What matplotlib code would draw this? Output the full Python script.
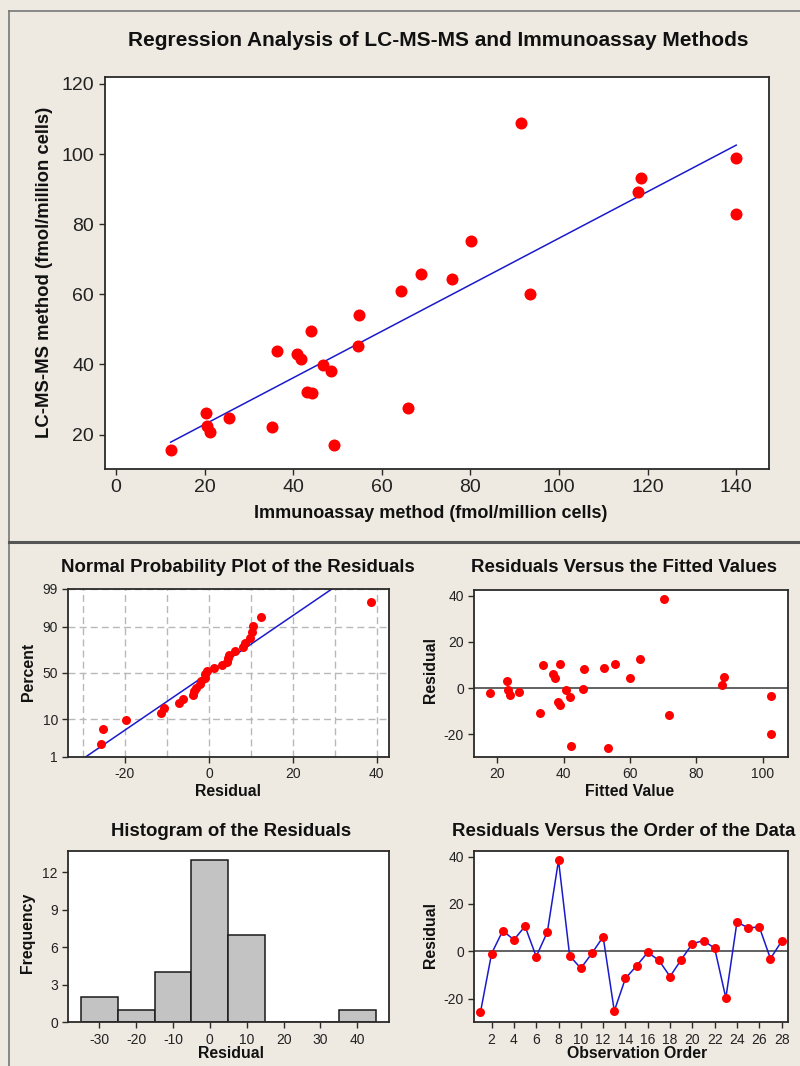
import numpy as np
import matplotlib
matplotlib.use("Agg")
import matplotlib.pyplot as plt
from matplotlib import font_manager
from matplotlib.lines import Line2D
from statistics import NormalDist

# ---------------- data (observation order) ----------------
immuno = [65.8, 20.6, 64.3, 118.4, 44.1, 12.3, 54.8, 91.4, 25.5, 44.2,
          46.8, 40.8, 49.2, 93.4, 43.2, 54.5, 48.6, 35.1, 140.0, 20.2,
          75.8, 117.8, 140.0, 80.2, 36.4, 68.9, 21.3, 41.7]
lcms = [27.5, 22.4, 61.0, 93.1, 49.5, 15.6, 54.2, 108.8, 24.7, 31.8,
        39.9, 42.9, 17.1, 60.2, 32.2, 45.4, 38.1, 22.3, 99.0, 26.3,
        64.5, 89.1, 82.8, 75.3, 43.7, 65.7, 20.7, 41.6]
hist_centers = [-30, -20, -10, 0, 10, 20, 30, 40]
hist_counts = [2, 1, 4, 13, 7, 0, 0, 1]
prob_tick_pct = [1, 10, 50, 90, 99]

# ---------------- style ----------------
names = {f.name for f in font_manager.fontManager.ttflist}
NARROW = 'Liberation Sans Narrow' if 'Liberation Sans Narrow' in names else 'Liberation Sans'
SANS = 'Liberation Sans'
plt.rcParams['font.family'] = [SANS, 'DejaVu Sans']
plt.rcParams['axes.unicode_minus'] = False

BG = '#eeeae2'
RED = '#ff0000'
BLUE = '#1a1acc'
SPINE = '#2a2a2a'

W, H = 800, 1066
fig = plt.figure(figsize=(W / 100, H / 100), dpi=100, facecolor=BG)


def rect(l, t, r, b):
    return [l / W, 1 - b / H, (r - l) / W, (b - t) / H]


def fx(x):
    return x / W


def fy(y):
    return 1 - y / H


def style_axes(ax, lw=1.3):
    ax.set_facecolor('white')
    for s in ax.spines.values():
        s.set_color(SPINE)
        s.set_linewidth(lw)
    ax.tick_params(direction='out', length=4, width=1, color=SPINE)


# panel borders
fig.add_artist(Line2D([fx(9), fx(9)], [fy(11), fy(1066)], color='#777777', lw=1.2))
fig.add_artist(Line2D([fx(9), fx(800)], [fy(11), fy(11)], color='#777777', lw=1.2))
fig.add_artist(Line2D([fx(9), fx(800)], [fy(541.5), fy(541.5)], color='#555555', lw=2.2))

x = np.array(immuno)
y = np.array(lcms)
slope, intercept = np.polyfit(x, y, 1)
fitted = intercept + slope * x
resid = y - fitted
n = len(resid)

# ---------------- top regression plot ----------------
ax = fig.add_axes(rect(104.6, 76.5, 769, 469))
style_axes(ax)
ax.scatter(x, y, s=75, color=RED, zorder=3, linewidths=0)
xl = np.array([x.min(), x.max()])
ax.plot(xl, intercept + slope * xl, color=BLUE, lw=1.1, zorder=2)
ax.set_xlim(-2.6, 147.4)
ax.set_ylim(10.2, 122.1)
ax.set_xticks(np.arange(0, 141, 20))
ax.set_yticks(np.arange(20, 121, 20))
for lab in ax.get_xticklabels() + ax.get_yticklabels():
    lab.set_fontfamily(NARROW)
    lab.set_fontsize(14)
    lab.set_color('#222222')
fig.text(fx(438), fy(41), 'Regression Analysis of LC-MS-MS and Immunoassay Methods',
         ha='center', va='center', fontsize=15, fontweight='bold', family=NARROW, color='#111111')
fig.text(fx(431), fy(514), 'Immunoassay method (fmol/million cells)',
         ha='center', va='center', fontsize=13, fontweight='bold', family=NARROW, color='#111111')
fig.text(fx(45), fy(272), 'LC-MS-MS method (fmol/million cells)', rotation=90,
         ha='center', va='center', fontsize=13.3, fontweight='bold', color='#111111')

SMALL = 10
LAB = 11.4
TIT = 13.4

# ---------------- normal probability plot ----------------
ax = fig.add_axes(rect(68.3, 589, 389, 756.7))
style_axes(ax)
nd = NormalDist()
sr = np.sort(resid)
pct = [(i + 1 - 0.3) / (n + 0.4) for i in range(n)]
zq = np.array([nd.inv_cdf(p) for p in pct])
mu, sd = resid.mean(), resid.std(ddof=1)
zl = np.array([nd.inv_cdf(0.005), nd.inv_cdf(0.995)])
ax.plot(mu + sd * zl, zl, color=BLUE, lw=1.1, zorder=2)
ax.scatter(sr, zq, s=42, color=RED, zorder=3, linewidths=0)
ax.set_xlim(-33.5, 42.9)
ax.set_ylim(nd.inv_cdf(0.01), nd.inv_cdf(0.99))
ax.set_xticks([-20, 0, 20, 40])
ax.set_xticks([-30, -10, 10, 30], minor=True)
ax.set_yticks([nd.inv_cdf(p / 100) for p in prob_tick_pct])
ax.set_yticklabels([str(p) for p in prob_tick_pct])
ax.tick_params(which='minor', length=0)
ax.grid(True, which='both', color='#b8b8b8', ls=(0, (5, 3)), lw=1)
ax.set_axisbelow(True)
ax.tick_params(labelsize=SMALL, labelcolor='#222222')
fig.text(fx(238), fy(567), 'Normal Probability Plot of the Residuals', ha='center', va='center',
         fontsize=TIT, fontweight='bold', color='#111111')
fig.text(fx(228), fy(791), 'Residual', ha='center', va='center', fontsize=LAB, fontweight='bold', color='#111111')
fig.text(fx(28), fy(672), 'Percent', rotation=90, ha='center', va='center', fontsize=LAB,
         fontweight='bold', color='#111111')

# ---------------- residuals vs fitted ----------------
ax = fig.add_axes(rect(474.3, 590, 788.3, 756.7))
style_axes(ax)
ax.axhline(0, color='#555555', lw=1.3, zorder=2)
ax.scatter(fitted, resid, s=42, color=RED, zorder=3, linewidths=0)
ax.set_xlim(13.1, 107.7)
ax.set_ylim(-29.7, 42.5)
ax.set_xticks([20, 40, 60, 80, 100])
ax.set_yticks([-20, 0, 20, 40])
ax.tick_params(labelsize=SMALL, labelcolor='#222222')
fig.text(fx(624), fy(567), 'Residuals Versus the Fitted Values', ha='center', va='center',
         fontsize=TIT, fontweight='bold', color='#111111')
fig.text(fx(630), fy(792), 'Fitted Value', ha='center', va='center', fontsize=LAB, fontweight='bold', color='#111111')
fig.text(fx(430), fy(670), 'Residual', rotation=90, ha='center', va='center', fontsize=LAB,
         fontweight='bold', color='#111111')

# ---------------- histogram ----------------
ax = fig.add_axes(rect(68.3, 851, 389, 1022.3))
style_axes(ax)
ax.bar(hist_centers, hist_counts, width=10, color='#c3c3c3', edgecolor='#1a1a1a', lw=1.1, zorder=2)
ax.set_xlim(-38.4, 48.6)
ax.set_ylim(0, 13.7)
ax.set_xticks(hist_centers)
ax.set_yticks([0, 3, 6, 9, 12])
ax.tick_params(labelsize=SMALL, labelcolor='#222222')
fig.text(fx(231), fy(831), 'Histogram of the Residuals', ha='center', va='center',
         fontsize=TIT, fontweight='bold', color='#111111')
fig.text(fx(231), fy(1054), 'Residual', ha='center', va='center', fontsize=LAB, fontweight='bold', color='#111111')
fig.text(fx(28), fy(933), 'Frequency', rotation=90, ha='center', va='center', fontsize=LAB,
         fontweight='bold', color='#111111')

# ---------------- residuals vs order ----------------
ax = fig.add_axes(rect(474.3, 851, 788.3, 1022.3))
style_axes(ax)
order = np.arange(1, n + 1)
ax.axhline(0, color='#555555', lw=1.3, zorder=1)
ax.plot(order, resid, color=BLUE, lw=1.1, zorder=2)
ax.scatter(order, resid, s=42, color=RED, zorder=3, linewidths=0)
ax.set_xlim(0.45, 28.6)
ax.set_ylim(-30.0, 42.4)
ax.set_xticks(np.arange(2, 29, 2))
ax.set_yticks([-20, 0, 20, 40])
ax.tick_params(labelsize=SMALL, labelcolor='#222222')
fig.text(fx(624), fy(832), 'Residuals Versus the Order of the Data', ha='center', va='center',
         fontsize=TIT, fontweight='bold', color='#111111')
fig.text(fx(637), fy(1054), 'Observation Order', ha='center', va='center', fontsize=LAB,
         fontweight='bold', color='#111111')
fig.text(fx(430), fy(935), 'Residual', rotation=90, ha='center', va='center', fontsize=LAB,
         fontweight='bold', color='#111111')

fig.savefig('out.png', dpi=100, facecolor=BG)
